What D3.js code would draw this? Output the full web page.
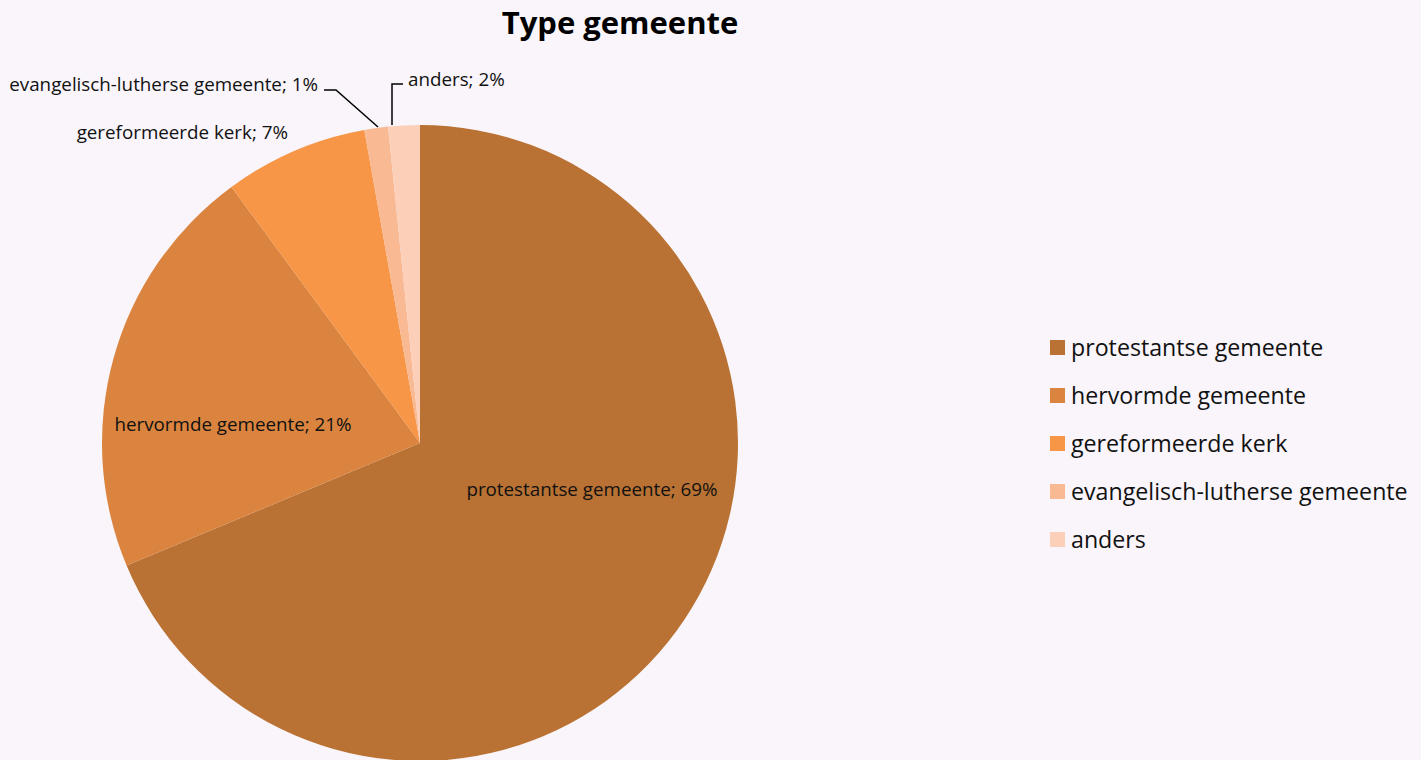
<!DOCTYPE html>
<html><head><meta charset="utf-8">
<script src="https://cdn.jsdelivr.net/npm/d3@7"></script>
<style>
html,body{margin:0;padding:0;background:#F9F5FA;}
svg{display:block;}
</style></head><body>
<svg id="chart" width="1421" height="760"></svg>
<script>
const categories = ["protestantse gemeente","hervormde gemeente","gereformeerde kerk","evangelisch-lutherse gemeente","anders"];
const values = [68.7, 21.2, 7.3, 1.2, 1.6];
const percentLabels = ["69%","21%","7%","1%","2%"];
const colors = ["#B97233","#DA843F","#F79646","#F9B993","#FBCFB8"];
const title = "Type gemeente";

const font = "'Open Sans', sans-serif";
const W = 1421, H = 760;
const cx = 420, cy = 443, R = 318;
const svg = d3.select("#chart");
svg.append("rect").attr("width",W).attr("height",H).attr("fill","#F9F5FA");

svg.append("text").attr("x",620).attr("y",34).attr("text-anchor","middle")
  .attr("font-family",font).attr("font-weight","bold").attr("font-size",31).attr("fill","#000").text(title);

const data = categories.map((c,i)=>({cat:c,value:values[i],pct:percentLabels[i],color:colors[i]}));
const pie = d3.pie().value(d=>d.value).sort(null);
const arcs = pie(data);
const arc = d3.arc().innerRadius(0).outerRadius(R);
const g = svg.append("g").attr("transform",`translate(${cx},${cy})`);
g.selectAll("path").data(arcs).enter().append("path")
  .attr("d",arc).attr("fill",d=>d.data.color).attr("stroke","none");

// label layout (relative to pie center, in px) and text anchors
const labelLayout = [
  {x:172, y:53, anchor:"middle"},
  {x:-187, y:-12, anchor:"middle"},
  {x:-132, y:-304, anchor:"end"},
  {x:-102, y:-352, anchor:"end", line:[[-96,-353],[-84,-353],[-42,-316]]},
  {x:-12, y:-357, anchor:"start", line:[[-17,-359],[-28,-359],[-28,-318]]}
];
const fs = 18.8;
arcs.forEach((a,i)=>{
  const L = labelLayout[i];
  if (L.line) {
    g.append("path").attr("d", d3.line()(L.line)).attr("fill","none").attr("stroke","#000").attr("stroke-width",1.5);
  }
  g.append("text").attr("x",L.x).attr("y",L.y).attr("text-anchor",L.anchor)
   .attr("font-family",font).attr("font-size",fs).attr("fill","#111")
   .text(a.data.cat + "; " + a.data.pct);
});

// legend
const lg = svg.append("g").attr("transform","translate(1050,340)");
const rowH = 48;
data.forEach((d,i)=>{
  const row = lg.append("g").attr("transform",`translate(0,${i*rowH})`);
  row.append("rect").attr("x",0).attr("y",0).attr("width",15).attr("height",15).attr("fill",d.color);
  row.append("text").attr("x",21).attr("y",15.5).attr("font-family",font).attr("font-size",23.2).attr("fill","#111").text(d.cat);
});
</script>
</body></html>
